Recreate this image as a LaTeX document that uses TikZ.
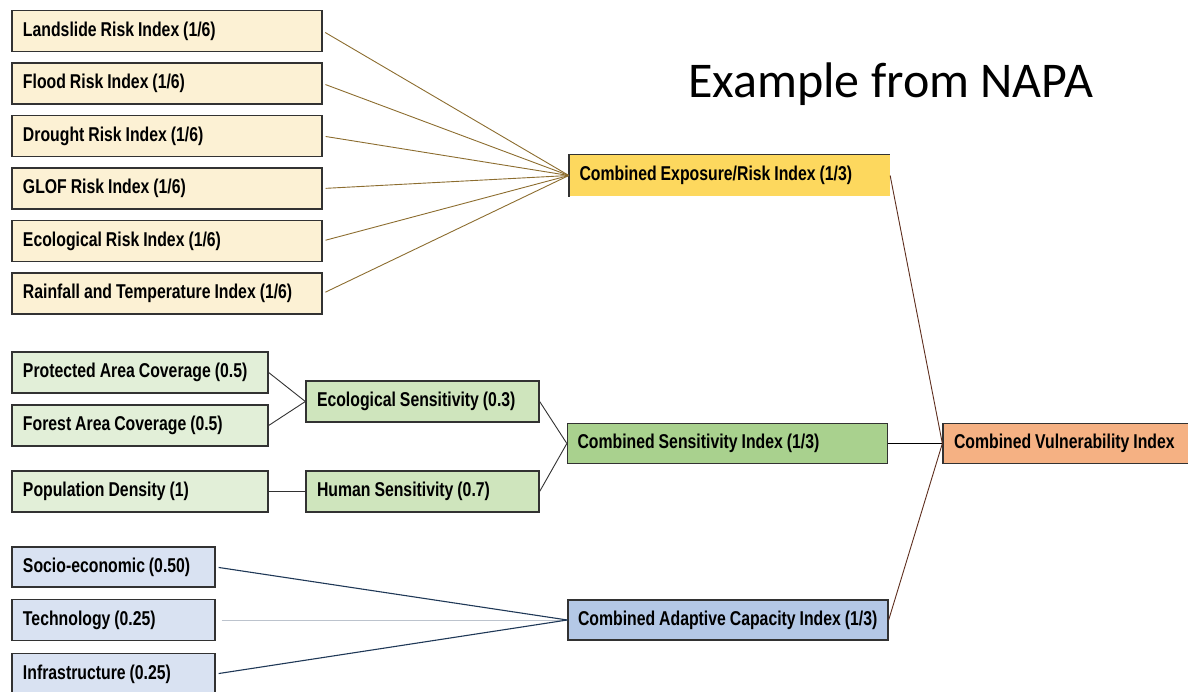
\documentclass[tikz,border=0pt]{standalone}
\usepackage{fontspec}
\newfontfamily\boxfont[FakeStretch=0.79, WordSpace=0.9]{Liberation Sans}
\newfontfamily\titlefont{Carlito}
\usetikzlibrary{arrows.meta}

\definecolor{boxline}{RGB}{50,50,50}
\definecolor{riskfill}{RGB}{252,241,212}
\definecolor{expofill}{RGB}{253,216,94}
\definecolor{senfill}{RGB}{226,239,216}
\definecolor{ecofill}{RGB}{207,229,189}
\definecolor{combsenfill}{RGB}{169,209,142}
\definecolor{vulnfill}{RGB}{245,177,131}
\definecolor{capfill}{RGB}{217,226,242}
\definecolor{adaptfill}{RGB}{180,200,230}
\definecolor{riskline}{RGB}{140,109,47}
\definecolor{vulnline}{RGB}{94,46,30}
\definecolor{capline}{RGB}{31,56,87}

\begin{document}
\begin{tikzpicture}[x=1pt, y=-1pt,
    lowbox/.style={draw=boxline, line width=1.3pt, minimum height=41pt, inner xsep=11pt, inner ysep=0pt,
        font=\boxfont\bfseries\fontsize{20pt}{22pt}\selectfont,
        execute at begin node={\hbox to #1\bgroup}, execute at end node={\hfil\egroup}},
    riskbox/.style={lowbox=288pt, fill=riskfill},
    senbox/.style={lowbox=234pt, fill=senfill},
    ecobox/.style={lowbox=211pt, fill=ecofill},
    capbox/.style={lowbox=181pt, fill=capfill},
    combobox/.style={lowbox=300pt, inner xsep=10pt}]
    \useasboundingbox (0,0) rectangle (1188,692);

    % exposure branch
    \node[riskbox] (landslide) at (167,31) {Landslide Risk Index (1/6)};
    \node[riskbox] (flood) at (167,83.5) {Flood Risk Index (1/6)};
    \node[riskbox] (drought) at (167,136) {Drought Risk Index (1/6)};
    \node[riskbox] (glof) at (167,188.5) {GLOF Risk Index (1/6)};
    \node[riskbox] (ecorisk) at (167,241) {Ecological Risk Index (1/6)};
    \node[riskbox] (rainfall) at (167,293.5) {Rainfall and Temperature Index (1/6)};
    \node[combobox, draw=none, fill=expofill] (expo) at (729.5,175.5) {Combined Exposure/Risk Index (1/3)};
    \draw[boxline, line width=1.3pt] (expo.south west) |- (expo.north east);

    % sensitivity branch
    \node[senbox] (protected) at (140,372.5) {Protected Area Coverage (0.5)};
    \node[senbox] (forest) at (140,425.5) {Forest Area Coverage (0.5)};
    \node[senbox] (population) at (140,491.5) {Population Density (1)};
    \node[ecobox] (ecosens) at (422.5,401.5) {Ecological Sensitivity (0.3)};
    \node[ecobox] (humansens) at (422.5,491.5) {Human Sensitivity (0.7)};
    \node[combobox, fill=combsenfill, minimum height=40pt] (combsens) at (727.5,443.5) {Combined Sensitivity Index (1/3)};
    \node[lowbox=238pt, fill=vulnfill, minimum height=40pt] (vuln) at (1073,443.5) {Combined Vulnerability Index};

    % adaptive capacity branch
    \node[capbox, minimum height=40pt] (socio) at (113.5,567) {Socio-economic (0.50)};
    \node[capbox] (tech) at (113.5,620) {Technology (0.25)};
    \node[capbox] (infra) at (113.5,674) {Infrastructure (0.25)};
    \node[combobox, fill=adaptfill, minimum height=40pt] (adapt) at (728,620) {Combined Adaptive Capacity Index (1/3)};

    \node[font=\titlefont\fontsize{50pt}{60pt}\selectfont, anchor=base west, inner sep=0pt] (title) at (688,98) {Example from NAPA};

    \foreach \n in {landslide,flood,drought,glof,ecorisk,rainfall}
        \draw[riskline, line width=0.9pt, shorten <=3pt] (\n.east) -- (expo.west);
    \draw[boxline, line width=0.9pt] (protected.east) -- (ecosens.west);
    \draw[boxline, line width=0.9pt] (forest.east) -- (ecosens.west);
    \draw[boxline, line width=1.1pt] (population.east) -- (humansens.west);
    \draw[boxline, line width=0.9pt] (ecosens.east) -- (combsens.west);
    \draw[boxline, line width=0.9pt] (humansens.east) -- (combsens.west);
    \draw[capline, line width=1.1pt, shorten <=3pt] (socio.east) -- (adapt.west);
    \draw[capline!30, line width=0.9pt, shorten <=6pt] (tech.east) -- (adapt.west);
    \draw[capline, line width=1.1pt, shorten <=3pt] (infra.east) -- (adapt.west);
    \draw[vulnline, line width=0.9pt] (expo.east) -- (vuln.west);
    \draw[black, line width=1.1pt] (combsens.east) -- (vuln.west);
    \draw[vulnline, line width=0.9pt] (adapt.east) -- (vuln.west);
\end{tikzpicture}
\end{document}
